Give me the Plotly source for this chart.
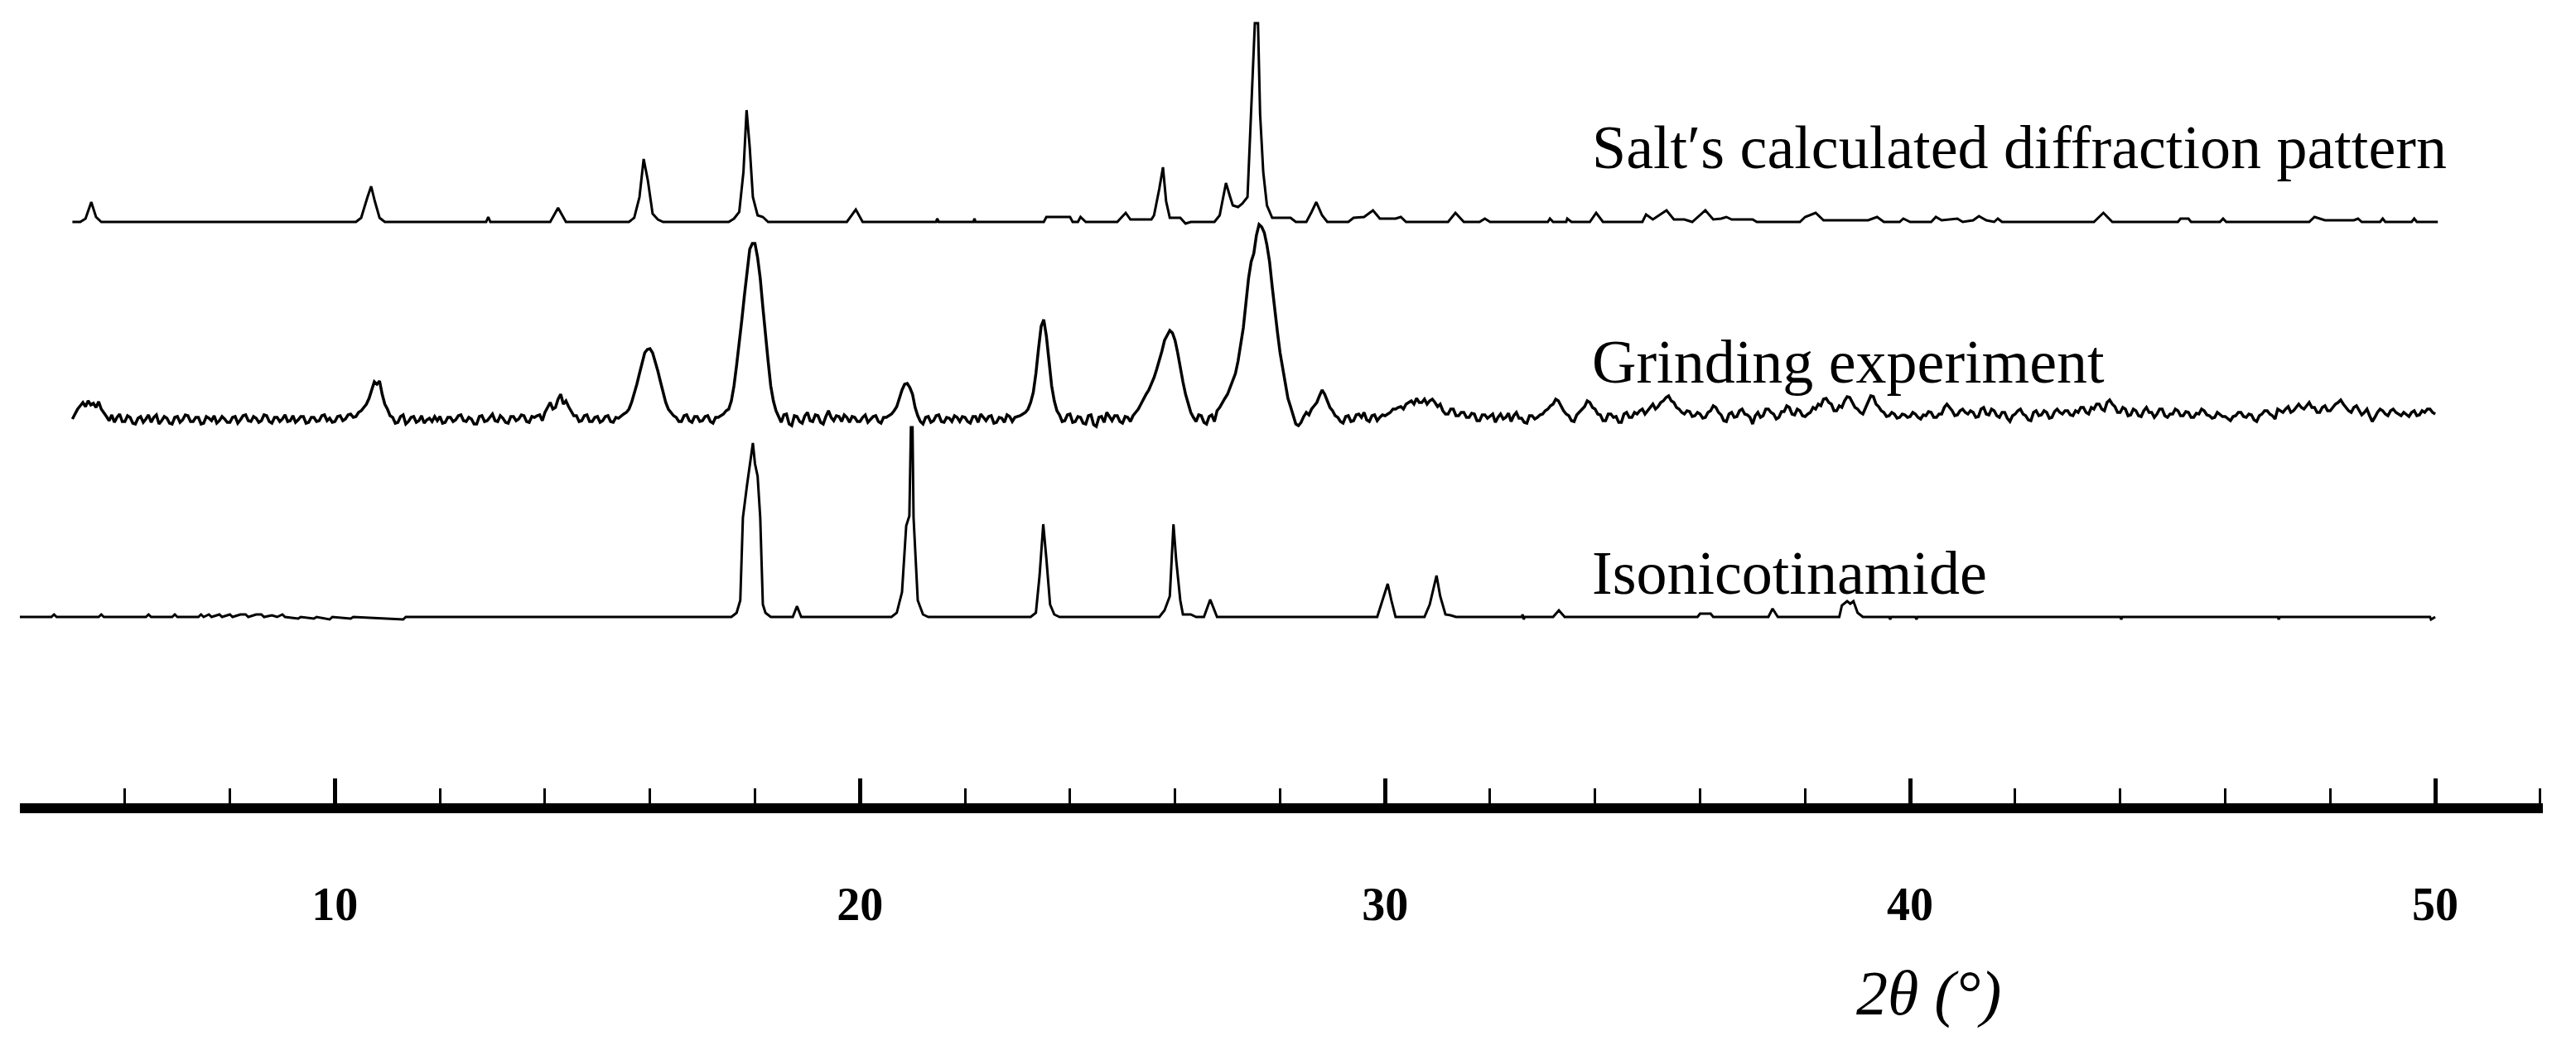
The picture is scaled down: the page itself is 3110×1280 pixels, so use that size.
import plotly.graph_objects as go

# ---------------- data (2θ in degrees, intensity in arbitrary units above each baseline) -------------
SALT_POINTS = [
    (5.0, 0), (5.15, 0), (5.25, 4), (5.36, 24), (5.45, 6), (5.55, 0),
    (10.4, 0), (10.5, 5), (10.62, 30), (10.69, 43), (10.76, 25), (10.85, 5), (10.95, 0),
    (12.88, 0), (12.92, 6), (12.96, 0),
    (14.1, 0), (14.25, 17), (14.4, 0),
    (15.6, 0), (15.7, 5), (15.8, 30), (15.88, 76), (15.96, 50), (16.05, 10), (16.15, 3), (16.25, 0),
    (17.5, 0), (17.6, 4), (17.7, 12), (17.78, 60), (17.84, 135), (17.9, 90), (17.96, 30), (18.05, 8),
    (18.15, 6), (18.25, 0),
    (19.75, 0), (19.92, 15), (20.05, 0),
    (21.45, 0), (21.47, 4), (21.5, 0), (22.16, 0), (22.18, 4), (22.2, 0),
    (23.5, 0), (23.55, 6), (24.0, 6), (24.05, 0), (24.15, 0), (24.2, 6), (24.3, 0),
    (24.9, 0), (25.06, 11), (25.15, 3), (25.55, 3), (25.6, 8), (25.7, 40), (25.77, 66), (25.83, 25),
    (25.9, 5), (26.1, 5), (26.2, -2), (26.3, 0),
    (26.75, 0), (26.85, 8), (26.97, 47), (27.05, 30), (27.1, 20), (27.2, 18), (27.28, 22), (27.38, 30),
    (27.45, 130), (27.52, 240), (27.58, 240), (27.62, 130), (27.68, 60), (27.75, 20), (27.85, 5),
    (28.2, 5), (28.3, 0), (28.5, 0), (28.6, 12), (28.69, 24), (28.8, 8), (28.9, 0),
    (29.3, 0), (29.4, 5), (29.6, 6), (29.77, 14), (29.9, 4), (30.2, 4), (30.3, 6), (30.4, 0),
    (31.2, 0), (31.34, 11), (31.5, 0), (31.8, 0), (31.9, 4), (32.0, 0),
    (33.1, 0), (33.14, 4), (33.2, 0), (33.45, 0), (33.47, 4), (33.55, 0),
    (33.9, 0), (34.02, 11), (34.15, 0), (34.9, 0), (34.97, 9), (35.1, 3), (35.36, 14), (35.5, 3),
    (35.7, 3), (35.85, 0), (36.1, 14), (36.25, 3), (36.4, 4), (36.5, 6), (36.6, 3), (37.0, 3),
    (37.08, 0), (37.2, 0),
    (37.9, 0), (38.0, 6), (38.2, 11), (38.35, 2), (38.6, 2), (39.2, 2), (39.37, 6), (39.5, 0),
    (39.8, 0), (39.87, 4), (40.0, 0), (40.4, 0), (40.49, 6), (40.6, 2), (40.9, 4), (41.0, 0),
    (41.2, 2), (41.31, 7), (41.45, 2), (41.6, 0), (41.67, 4), (41.75, 0),
    (43.5, 0), (43.68, 11), (43.85, 0), (45.1, 0), (45.15, 4), (45.3, 4), (45.35, 0),
    (45.9, 0), (45.96, 4), (46.02, 0), (47.6, 0), (47.7, 6), (47.9, 2), (48.45, 2), (48.53, 4),
    (48.6, 0), (48.95, 0), (49.0, 4), (49.05, 0), (49.55, 0), (49.6, 4), (49.65, 0), (50.05, 0),
]

# Grinding experiment: measured intensity sampled every 0.05° from 5° to 50°
GRIND_START = 5.0
GRIND_STEP = 0.05
GRIND_Y = [
    0, 6, 12, 16, 20, 15, 22, 17, 19, 14, 21, 12, 8, 3, -2, 5, -4, 2, 6, -3,                 # 5
    -3, 4, 2, -5, -6, 1, 3, -4, 0, 5, -4, 2, 5, -6, -2, 3, 1, -5, -6, 2,                     # 6
    3, -4, -1, 5, 4, -3, -3, 2, 2, -6, -5, 3, 1, -2, 4, -5, -2, 3, 0, -4,                    # 7
    -4, 2, 3, -5, -1, 4, 5, -2, -3, 3, 1, -4, -2, 5, 4, -3, -5, 2, 2, -3,                    # 8
    0, 5, -3, -2, 4, -4, -1, 3, 3, -5, -4, 2, 2, -3, -2, 4, 5, -2, 1, -4,                    # 9
    -3, 3, 4, -2, 0, 5, 6, 2, 3, 8, 10, 14, 18, 25, 35, 45, 42, 46, 30, 18,                  # 10
    12, 4, 2, -5, -4, 3, 5, -6, -3, 2, 3, -4, -2, 4, -5, -1, 1, -3, 3, -2,                   # 11
    3, -5, -4, 2, 2, -3, -1, 4, 5, -2, -3, 2, 0, -6, -6, 3, 4, -3, -2, 2,                    # 12
    6, -2, -3, 4, 1, -4, -5, 3, 3, -2, 0, 5, 4, -3, -4, 3, 2, 4, 5, -2,                      # 13
    8, 14, 20, 12, 14, 24, 30, 18, 22, 15, 10, 4, 4, -3, -2, 4, 5, -3, -3, 2,                # 14
    3, -4, -2, 3, 4, -3, -4, 2, 1, 4, 6, 8, 12, 20, 30, 42, 55, 68, 80, 84,                  # 15
    85, 80, 70, 58, 45, 32, 20, 12, 8, 4, 2, -3, -3, 4, 5, -2, -4, 3, 3, -3,                 # 16
    -2, 3, 4, -3, -5, 2, 2, 4, 6, 10, 12, 22, 40, 65, 90, 120, 150, 180, 205, 212,           # 17
    212, 195, 170, 135, 100, 70, 40, 22, 10, 2, -4, 5, 6, -6, -8, 4, 3, -3, -5, 4,           # 18
    8, -2, -3, 5, 4, -4, -6, 3, 10, 2, -2, 4, 3, -3, 5, 2, -4, 3, 2, -3,                     # 19
    -3, 2, 5, -4, -1, 3, 4, -3, -5, 2, 2, 4, 6, 10, 15, 25, 35, 42, 43, 38,                  # 20
    30, 14, 4, -3, -6, 2, 3, -4, -2, 4, 5, -3, -4, 2, 1, -3, 4, 2, -3, 3,                    # 21
    2, -3, -5, 3, 3, -4, 6, 2, -2, 3, 4, -5, -4, 2, 1, -4, 5, 3, -3, 2,                      # 22
    3, 4, 6, 8, 12, 20, 32, 55, 85, 112, 120, 100, 70, 40, 22, 10, 5, -3, -2, 5,             # 23
    6, -4, -3, 3, 2, -5, -6, 4, 5, -7, -9, 2, 3, -4, 8, 3, -2, 4, 4, -3,                     # 24
    -5, 3, 2, -3, 4, 8, 12, 18, 25, 30, 35, 42, 50, 60, 70, 82, 95, 102, 107, 104,           # 25
    95, 80, 60, 45, 30, 18, 8, 2, -3, 5, 4, -4, -6, 3, 5, -3, 10, 14, 20, 25,                # 26
    30, 38, 45, 55, 70, 90, 110, 140, 170, 190, 200, 222, 235, 232, 225, 210, 190, 160, 130, 105,  # 27
    80, 60, 40, 25, 15, 4, -6, -8, -4, 3, 8, 5, 12, 16, 20, 28, 35, 30, 22, 14,              # 28
    10, 4, 2, -3, -5, 3, 4, -3, -2, 5, 6, 2, 8, -1, -3, 4, 5, -2, 2, 5,                      # 29
    4, 6, 8, 12, 12, 14, 15, 12, 18, 20, 22, 18, 25, 20, 20, 24, 18, 22, 24, 20,             # 30
    15, 18, 10, 6, 6, 12, 12, 4, 4, 8, 8, 2, 2, 7, 6, -2, -2, 5, 5, 1,                       # 31
    3, 6, -4, 2, 6, 0, 2, 7, -3, 4, 8, 1, 1, -4, -5, 4, 4, 0, 2, 5,                          # 32
    6, 10, 12, 16, 18, 24, 22, 15, 10, 6, 4, -2, -3, 5, 8, 12, 15, 22, 20, 14,               # 33
    12, 6, 5, -2, -2, 6, 6, 2, 3, -4, -4, 6, 8, 2, 2, 8, 6, 10, 12, 6,                       # 34
    10, 14, 18, 12, 15, 20, 22, 26, 28, 22, 20, 14, 12, 8, 6, 10, 9, 3, 4, 8,                # 35
    6, 1, 2, 8, 10, 16, 14, 8, 5, -2, -3, 6, 8, 2, 3, 10, 12, 6, 5, 2,                       # 36
    -6, 4, 8, 2, 4, 12, 12, 8, 6, 0, 2, 9, 9, 16, 14, 6, 5, 12, 10, 4,                       # 37
    3, 6, 8, 14, 12, 18, 16, 24, 25, 20, 18, 10, 10, 16, 14, 22, 27, 26, 20, 14,             # 38
    12, 8, 6, 14, 22, 28, 27, 18, 15, 10, 8, 3, 4, 8, 6, 1, 2, 6, 5, 2,                      # 39
    3, 8, 6, 2, 0, 5, 4, 9, 8, 2, 2, 6, 6, 14, 18, 14, 10, 4, 5, 10,                         # 40
    12, 8, 6, 10, 8, 2, 3, 12, 14, 6, 5, 12, 10, 4, 2, 8, 8, 1, -3, 4,                       # 41
    6, 10, 12, 6, 4, -1, -2, 8, 10, 4, 5, 10, 8, 1, 2, 9, 12, 8, 6, 10,                      # 42
    10, 5, 4, 10, 8, 14, 14, 8, 6, 14, 12, 18, 18, 12, 10, 20, 23, 18, 15, 8,                # 43
    8, 14, 12, 4, 5, 12, 10, 4, 3, 10, 14, 8, 8, 2, 6, 12, 12, 4, 2, 6,                      # 44
    6, 12, 10, 4, 4, 9, 8, 2, 2, 7, 6, 12, 10, 5, 4, 1, 2, 8, 6, 3,                          # 45
    3, 0, -2, 3, 4, 8, 8, 3, 2, 6, 5, -1, -3, 4, 6, 10, 10, 6, 4, 0,                         # 46
    12, 10, 8, 12, 15, 8, 10, 14, 18, 14, 12, 16, 20, 14, 14, 8, 8, 14, 16, 10,              # 47
    10, 14, 18, 20, 23, 18, 14, 10, 8, 14, 16, 10, 5, 8, 12, 4, -3, 2, 8, 12,                # 48
    10, 6, 4, 10, 12, 8, 6, 4, 8, 6, 3, 8, 10, 4, 5, 10, 8, 12, 12, 8,                       # 49
    6,                                                                                      # 50
]

ISO_POINTS = [
    (4.0, 0), (4.6, 0), (4.65, 3), (4.7, 0), (5.5, 0), (5.55, 3), (5.6, 0), (6.4, 0), (6.45, 3),
    (6.5, 0), (6.9, 0), (6.95, 3), (7.0, 0), (7.4, 0), (7.45, 3), (7.5, 0), (7.6, 3), (7.65, 0),
    (7.8, 3), (7.85, 0), (8.0, 3), (8.05, 0), (8.2, 3), (8.3, 3), (8.35, 0), (8.5, 3), (8.6, 3),
    (8.65, 0), (8.8, 2), (8.9, 0), (9.0, 3), (9.05, 0), (9.3, -2), (9.35, 0), (9.6, -2), (9.65, 0),
    (9.9, -3), (9.95, 0), (10.3, -2), (10.35, 0), (11.3, -3), (11.35, 0),
    (17.55, 0), (17.65, 5), (17.72, 20), (17.77, 120), (17.85, 160), (17.92, 190), (17.96, 210),
    (18.0, 185), (18.05, 170), (18.1, 120), (18.15, 15), (18.2, 5), (18.3, 0),
    (18.72, 0), (18.8, 13), (18.88, 0),
    (20.6, 0), (20.7, 5), (20.8, 30), (20.88, 110), (20.94, 122), (20.97, 229), (21.0, 229),
    (21.02, 120), (21.1, 20), (21.2, 3), (21.3, 0),
    (23.25, 0), (23.35, 5), (23.42, 50), (23.49, 112), (23.55, 70), (23.62, 15), (23.7, 3), (23.8, 0),
    (25.7, 0), (25.8, 8), (25.9, 25), (25.97, 112), (26.02, 70), (26.1, 20), (26.15, 3), (26.3, 3),
    (26.4, 0), (26.55, 0), (26.67, 21), (26.8, 0),
    (29.85, 0), (29.95, 20), (30.05, 40), (30.12, 20), (30.2, 0),
    (30.75, 0), (30.85, 15), (30.98, 50), (31.05, 25), (31.15, 3), (31.25, 2), (31.35, 0),
    (32.6, 0), (32.62, 3), (32.64, -3), (32.66, 0), (33.2, 0), (33.31, 8), (33.42, 0),
    (35.95, 0), (36.0, 4), (36.2, 4), (36.25, 0), (37.3, 0), (37.38, 10), (37.48, 0),
    (38.65, 0), (38.7, 14), (38.8, 19), (38.86, 16), (38.92, 19), (39.0, 5), (39.1, 0),
    (39.6, 0), (39.62, -3), (39.64, 0), (40.1, 0), (40.12, -3), (40.14, 0), (44.0, 0), (44.02, -3),
    (44.04, 0), (47.0, 0), (47.02, -3), (47.04, 0), (49.9, 0), (49.92, -3), (50.0, 0),
]

TRACE_NAMES = ["Salt′s calculated diffraction pattern", "Grinding experiment", "Isonicotinamide"]
TICK_VALUES = [10, 20, 30, 40, 50]
TICK_LABELS = ["10", "20", "30", "40", "50"]
AXIS_TITLE = "2θ (°)"

# ---------------- layout constants -------------
OFFSETS = [702, 464, 225]      # vertical stacking offsets of the three patterns
LABEL_Y = [792, 533, 278]
LABEL_X = 33.91
SERIF = "Liberation Serif, Times New Roman, serif"
LINE_WIDTHS = [3, 3.5, 3]

salt_x = [p[0] for p in SALT_POINTS]
salt_y = [p[1] + OFFSETS[0] for p in SALT_POINTS]
grind_x = [GRIND_START + GRIND_STEP * i for i in range(len(GRIND_Y))]
grind_y = [v + OFFSETS[1] for v in GRIND_Y]
iso_x = [p[0] for p in ISO_POINTS]
iso_y = [p[1] + OFFSETS[2] for p in ISO_POINTS]

fig = go.Figure()
for xs, ys, name, w in [(salt_x, salt_y, TRACE_NAMES[0], LINE_WIDTHS[0]),
                        (grind_x, grind_y, TRACE_NAMES[1], LINE_WIDTHS[1]),
                        (iso_x, iso_y, TRACE_NAMES[2], LINE_WIDTHS[2])]:
    fig.add_trace(go.Scatter(x=xs, y=ys, mode="lines", line=dict(color="black", width=w),
                             name=name, showlegend=False))

for name, ly in zip(TRACE_NAMES, LABEL_Y):
    fig.add_annotation(x=LABEL_X, y=ly, xref="x", yref="y", text=name, showarrow=False,
                       xanchor="left", yanchor="middle",
                       font=dict(family=SERIF, size=74, color="black"))

fig.add_annotation(x=40.35, y=-0.239, xref="x", yref="paper", text=AXIS_TITLE, showarrow=False,
                   xanchor="center", yanchor="middle",
                   font=dict(family=SERIF, size=76, color="black", style="italic"))

# page body has an 8px margin, so the figure is sized to fit the 3110x1280 window
fig.update_layout(
    width=3094, height=1264,
    margin=dict(l=16, r=32, t=0, b=302, pad=0),
    paper_bgcolor="white", plot_bgcolor="white",
    xaxis=dict(
        range=[4, 52.05], showgrid=False, zeroline=False,
        showline=True, linecolor="black", linewidth=12,
        ticks="inside", ticklen=30, tickwidth=5, tickcolor="black",
        tickmode="array", tickvals=TICK_VALUES, ticktext=TICK_LABELS,
        tickfont=dict(family=SERIF, size=56, color="black", weight="bold"),
        ticklabelstandoff=62,
        minor=dict(dtick=2, tick0=0, ticks="inside", ticklen=18, tickwidth=2.5, tickcolor="black",
                   showgrid=False),
    ),
    yaxis=dict(range=[0, 962], visible=False, showgrid=False, zeroline=False),
)

fig.write_html("out.html")
